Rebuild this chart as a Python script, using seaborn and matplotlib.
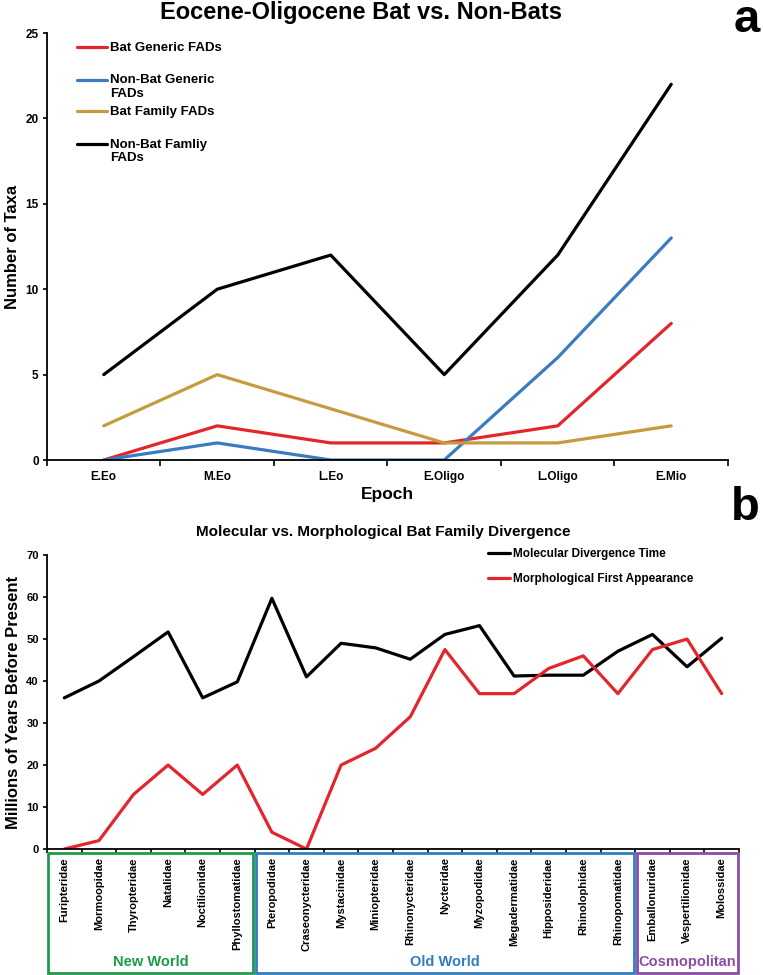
import numpy as np
import pandas as pd
import seaborn as sns
import matplotlib.pyplot as plt
import matplotlib.transforms as mtransforms
from matplotlib.patches import Rectangle

# ---- panel a: first appearances per epoch ----
epochs = ['E.Eo', 'M.Eo', 'L.Eo', 'E.Oligo', 'L.Oligo', 'E.Mio']
bat_generic = [0, 2, 1, 1, 2, 8]
nonbat_generic = [0, 1, 0, 0, 6, 13]
bat_family = [2, 5, 3, 1, 1, 2]
nonbat_family = [5, 10, 12, 5, 12, 22]
series_a = ['Bat Generic FADs', 'Non-Bat Generic\nFADs', 'Bat Family FADs', 'Non-Bat Famliy\nFADs']
colors_a = ['#e2262b', '#3b7bbf', '#c59b3d', '#000000']

# ---- panel b: divergence times per family ----
families = ['Furipteridae', 'Mormoopidae', 'Thyropteridae', 'Natalidae', 'Noctilionidae',
            'Phyllostomatidae', 'Pteropodidae', 'Craseonycteridae', 'Mystacinidae',
            'Miniopteridae', 'Rhinonycteridae', 'Nycteridae', 'Myzopodidae', 'Megadermatidae',
            'Hipposideridae', 'Rhinolophidae', 'Rhinopomatidae', 'Emballonuridae',
            'Vespertilionidae', 'Molossidae']
molecular = [36.0, 40.0, 45.8, 51.7, 36.0, 39.8, 59.7, 41.0, 49.0, 47.9,
             45.2, 51.1, 53.2, 41.2, 41.4, 41.4, 47.1, 51.1, 43.4, 50.2]
morphological = [0, 2, 13, 20, 13, 20, 4, 0, 20, 24,
                 31.5, 47.5, 37, 37, 43, 46, 37, 47.5, 50, 37]
series_b = ['Molecular Divergence Time', 'Morphological First Appearance']
colors_b = ['#000000', '#e2262b']
regions = ['New World', 'Old World', 'Cosmopolitan']
region_sizes = [6, 11, 3]
region_colors = ['#1f9a4a', '#2f7ec3', '#8b4ca6']

sns.set_style('ticks')
plt.rcParams['font.family'] = ['Liberation Sans', 'DejaVu Sans']
plt.rcParams['font.weight'] = 'bold'
plt.rcParams['axes.labelweight'] = 'bold'
plt.rcParams['axes.linewidth'] = 1.3
for key in ['text.color', 'axes.labelcolor', 'xtick.color', 'ytick.color', 'axes.edgecolor']:
    plt.rcParams[key] = 'black'

fig = plt.figure(figsize=(7.63, 9.75), dpi=100)
ax_a = fig.add_axes([0.0616, 0.5282, 0.8925, 0.4379])
ax_b = fig.add_axes([0.0616, 0.1292, 0.9069, 0.3015])

# panel a
df_a = pd.DataFrame({
    'pos': np.tile(np.arange(len(epochs)), len(series_a)),
    'count': np.concatenate([bat_generic, nonbat_generic, bat_family, nonbat_family]),
    'series': np.repeat(series_a, len(epochs)),
})
sns.lineplot(data=df_a, x='pos', y='count', hue='series', hue_order=series_a,
             palette=dict(zip(series_a, colors_a)), linewidth=2.3, legend=False,
             sort=False, ax=ax_a)
ax_a.set_xlim(-0.5, len(epochs) - 0.5)
ax_a.set_ylim(0, 25)
ax_a.set_yticks(range(0, 26, 5))
ax_a.set_xticks(np.arange(-0.5, len(epochs), 1))
ax_a.set_xticklabels([])
ax_a.set_xticks(np.arange(len(epochs)), epochs, minor=True)
ax_a.tick_params(axis='x', which='minor', length=0, pad=8, labelsize=8.5)
ax_a.tick_params(axis='x', which='major', length=4, width=1.2)
ax_a.tick_params(axis='y', length=3, width=1.2, pad=3, labelsize=8.5)
ax_a.set_xlabel('Epoch', fontsize=12.5)
ax_a.set_ylabel('Number of Taxa', fontsize=12)
ax_a.xaxis.set_label_coords(0.5, -0.063)
ax_a.yaxis.set_label_coords(-0.040, 0.5)
sns.despine(ax=ax_a)

# legend for panel a (key line sits on the first text line)
legend_y = [0.967, 0.890, 0.817, 0.740]
for name, color, y in zip(series_a, colors_a, legend_y):
    ax_a.plot([0.044, 0.088], [y, y], color=color, lw=2.3, transform=ax_a.transAxes)
    ax_a.text(0.0925, y + 0.013, name, transform=ax_a.transAxes, ha='left', va='top',
              fontsize=9.5, linespacing=1.15)

# panel b
df_b = pd.DataFrame({
    'pos': np.tile(np.arange(len(families)), 2),
    'years': np.concatenate([molecular, morphological]),
    'series': np.repeat(series_b, len(families)),
})
sns.lineplot(data=df_b, x='pos', y='years', hue='series', hue_order=series_b,
             palette=dict(zip(series_b, colors_b)), linewidth=2.3, legend=False,
             sort=False, ax=ax_b)
ax_b.set_xlim(-0.5, len(families) - 0.5)
ax_b.set_ylim(0, 70)
ax_b.set_yticks(range(0, 71, 10))
ax_b.set_xticks(np.arange(-0.5, len(families), 1))
ax_b.set_xticklabels([])
ax_b.set_xticks(np.arange(len(families)), families, minor=True, rotation=90)
ax_b.tick_params(axis='x', which='minor', length=0, pad=6, labelsize=8)
ax_b.tick_params(axis='x', which='major', length=3, width=1.2)
ax_b.tick_params(axis='y', length=3, width=1.2, pad=3, labelsize=8)
ax_b.set_xlabel('')
ax_b.set_ylabel('Millions of Years Before Present', fontsize=12)
ax_b.yaxis.set_label_coords(-0.038, 0.5)
sns.despine(ax=ax_b)
ax_b.legend(ax_b.lines[:2], series_b, loc='upper left', bbox_to_anchor=(0.637, 1.025),
            frameon=False, prop={'weight': 'bold', 'size': 8.5}, handlelength=1.9,
            handletextpad=0.2, labelspacing=1.15, borderpad=0, borderaxespad=0)

# region boxes under the family labels
trans = mtransforms.blended_transform_factory(ax_b.transData, ax_b.transAxes)
start = -0.5
for name, size, color in zip(regions, region_sizes, region_colors):
    ax_b.add_patch(Rectangle((start + 0.04, -0.422), size - 0.08, 0.408, transform=trans,
                             fill=False, edgecolor=color, lw=2, clip_on=False))
    ax_b.text(start + size / 2, -0.384, name, transform=trans, ha='center', va='center',
              color=color, fontsize=10.5)
    start += size

fig.text(0.473, 0.980, 'Eocene-Oligocene Bat vs. Non-Bats', ha='center', va='baseline',
         fontsize=17)
fig.text(0.502, 0.4503, 'Molecular vs. Morphological Bat Family Divergence', ha='center',
         va='baseline', fontsize=11)
fig.text(0.979, 0.967, 'a', ha='center', va='baseline', fontsize=34)
fig.text(0.977, 0.4667, 'b', ha='center', va='baseline', fontsize=34)

fig.savefig('out.png', dpi=100)
plt.close()
